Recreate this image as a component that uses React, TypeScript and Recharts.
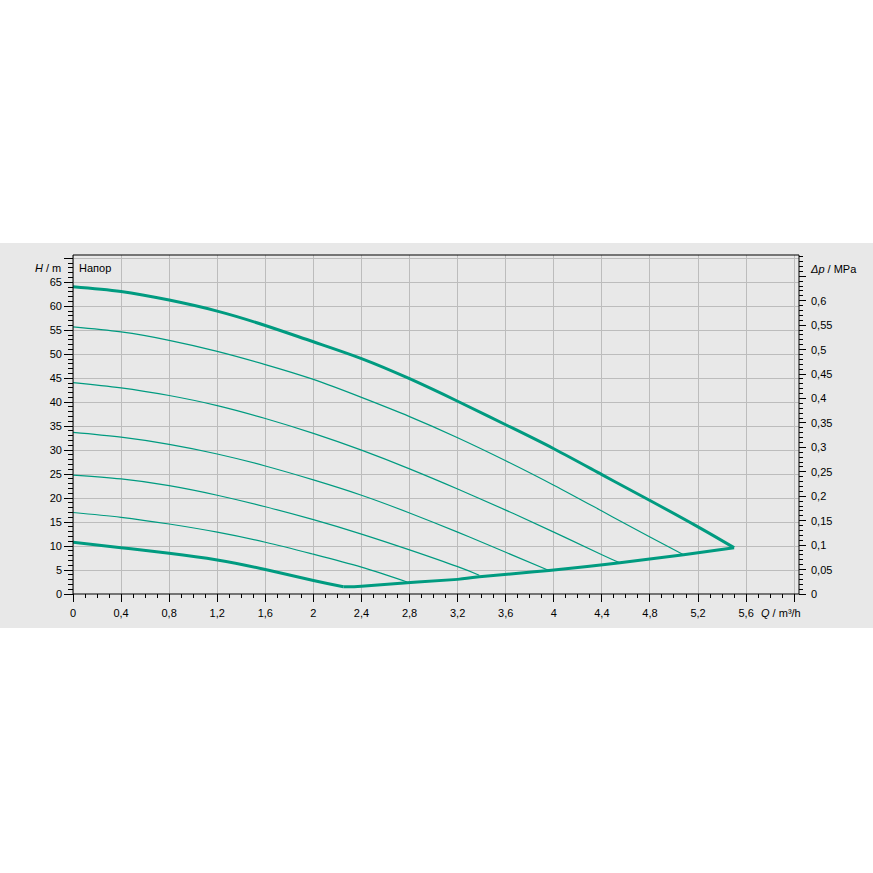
import React from "react";
import { LineChart, Line, XAxis, YAxis, CartesianGrid, ReferenceLine } from "recharts";

// pump curves: Q in m³/h, H in m
const maxCurve = [
  { q: 0, h: 64.1 }, { q: 0.4, h: 63.1 }, { q: 0.8, h: 61.3 }, { q: 1.2, h: 59.0 },
  { q: 1.6, h: 56.0 }, { q: 2.0, h: 52.6 }, { q: 2.4, h: 49.1 }, { q: 2.8, h: 44.9 },
  { q: 3.2, h: 40.2 }, { q: 3.6, h: 35.3 }, { q: 4.0, h: 30.3 }, { q: 4.4, h: 24.9 },
  { q: 4.8, h: 19.5 }, { q: 5.2, h: 14.0 }, { q: 5.5, h: 9.65 },
];
const curve1 = [
  { q: 0, h: 55.7 }, { q: 0.4, h: 54.65 }, { q: 0.8, h: 52.9 }, { q: 1.2, h: 50.6 },
  { q: 1.6, h: 47.85 }, { q: 2.0, h: 44.75 }, { q: 2.4, h: 41.0 }, { q: 2.8, h: 37.0 },
  { q: 3.2, h: 32.6 }, { q: 3.6, h: 27.8 }, { q: 4.0, h: 22.7 }, { q: 4.4, h: 17.3 },
  { q: 4.8, h: 11.9 }, { q: 5.08, h: 8.2 },
];
const curve2 = [
  { q: 0, h: 44.1 }, { q: 0.4, h: 43.0 }, { q: 0.8, h: 41.4 }, { q: 1.2, h: 39.3 },
  { q: 1.6, h: 36.6 }, { q: 2.0, h: 33.5 }, { q: 2.4, h: 30.0 }, { q: 2.8, h: 26.1 },
  { q: 3.2, h: 21.9 }, { q: 3.6, h: 17.5 }, { q: 4.0, h: 12.9 }, { q: 4.4, h: 8.2 },
  { q: 4.55, h: 6.5 },
];
const curve3 = [
  { q: 0, h: 33.7 }, { q: 0.4, h: 32.7 }, { q: 0.8, h: 31.2 }, { q: 1.2, h: 29.2 },
  { q: 1.6, h: 26.7 }, { q: 2.0, h: 23.8 }, { q: 2.4, h: 20.6 }, { q: 2.8, h: 16.9 },
  { q: 3.2, h: 12.9 }, { q: 3.6, h: 8.7 }, { q: 3.96, h: 4.9 },
];
const curve4 = [
  { q: 0, h: 24.8 }, { q: 0.4, h: 24.0 }, { q: 0.8, h: 22.6 }, { q: 1.2, h: 20.6 },
  { q: 1.6, h: 18.2 }, { q: 2.0, h: 15.5 }, { q: 2.4, h: 12.5 }, { q: 2.8, h: 9.2 },
  { q: 3.2, h: 5.7 }, { q: 3.38, h: 3.9 },
];
const curve5 = [
  { q: 0, h: 17.0 }, { q: 0.4, h: 16.0 }, { q: 0.8, h: 14.6 }, { q: 1.2, h: 12.9 },
  { q: 1.6, h: 10.8 }, { q: 2.0, h: 8.3 }, { q: 2.4, h: 5.6 }, { q: 2.78, h: 2.5 },
];
const minCurve = [
  { q: 0, h: 10.8 }, { q: 0.4, h: 9.65 }, { q: 0.8, h: 8.5 }, { q: 1.2, h: 7.1 },
  { q: 1.6, h: 5.1 }, { q: 2.0, h: 2.8 }, { q: 2.25, h: 1.5 },
];
const boundary = [
  { q: 2.25, h: 1.5 }, { q: 2.4, h: 1.6 }, { q: 2.78, h: 2.35 }, { q: 3.2, h: 3.05 },
  { q: 3.38, h: 3.6 }, { q: 3.96, h: 4.9 }, { q: 4.55, h: 6.5 }, { q: 5.08, h: 8.2 },
  { q: 5.5, h: 9.65 },
];

const gridQ = [0, 0.4, 0.8, 1.2, 1.6, 2, 2.4, 2.8, 3.2, 3.6, 4, 4.4, 4.8, 5.2, 5.6, 6];
const gridH = [5, 10, 15, 20, 25, 30, 35, 40, 45, 50, 55, 60, 65, 70];

const Q_MAX = 6.04;
const H_MAX = 70.7;
const MPA_PER_M = 0.00981;

const qTicks = Array.from({ length: 61 }, (_, k) => k / 10);
const hTicks = Array.from({ length: 71 }, (_, k) => k);
const pTicks = Array.from({ length: 70 }, (_, k) => k / 100);

const GREEN = "#009b80";
const GRID = "#bcbcbc";
const FONT = "'Liberation Sans', Arial, sans-serif";
const comma = (v: number) => String(v).replace(".", ",");

const XTick = (props: any) => {
  const { x, y, payload } = props;
  const k = Math.round(payload.value * 10);
  const major = k % 4 === 0;
  return (
    <g>
      <line x1={x} x2={x} y1={y} y2={y + (major ? 8 : 4)} stroke="#000" shapeRendering="crispEdges" />
      {major && k <= 56 && (
        <text x={x} y={y + 23} textAnchor="middle" fontSize={11} fontFamily={FONT} fill="#000">
          {comma(k / 10)}
        </text>
      )}
    </g>
  );
};

const HTick = (props: any) => {
  const { x, y, payload } = props;
  const v = Math.round(payload.value);
  const major = v % 5 === 0;
  return (
    <g>
      <line x1={x - (major ? 9 : 5)} x2={x} y1={y} y2={y} stroke="#000" shapeRendering="crispEdges" />
      {major && v <= 65 && (
        <text x={x - 11} y={y + 4} textAnchor="end" fontSize={11} fontFamily={FONT} fill="#000">
          {v}
        </text>
      )}
    </g>
  );
};

const PTick = (props: any) => {
  const { x, y, payload } = props;
  const k = Math.round(payload.value * 100);
  const major = k % 5 === 0;
  return (
    <g>
      <line x1={x} x2={x + (major ? 7 : 4)} y1={y} y2={y} stroke="#000" shapeRendering="crispEdges" />
      {major && k <= 60 && (
        <text x={x + 12} y={y + 4} textAnchor="start" fontSize={11} fontFamily={FONT} fill="#000">
          {comma(k / 100)}
        </text>
      )}
    </g>
  );
};

const labelStyle: React.CSSProperties = {
  position: "absolute",
  fontFamily: FONT,
  fontSize: 11,
  color: "#000",
  whiteSpace: "nowrap",
  lineHeight: "13px",
};

export default function App() {
  const thin = { type: "natural" as const, dataKey: "h", stroke: GREEN, strokeWidth: 1.2, dot: false, isAnimationActive: false };
  const thick = { ...thin, strokeWidth: 3 };
  return (
    <div style={{ position: "absolute", left: 0, top: 0, width: 873, height: 873, background: "#fff" }}>
      <div style={{ position: "absolute", left: 0, top: 243, width: 873, height: 385, background: "#e8e8e8" }}>
        <LineChart width={873} height={385} margin={{ top: 12, right: 0, bottom: 0, left: 0 }}>
          <CartesianGrid stroke={GRID} horizontal={false} verticalValues={gridQ} shapeRendering="crispEdges" />
          <XAxis
            type="number"
            dataKey="q"
            domain={[0, Q_MAX]}
            ticks={qTicks}
            interval={0}
            height={34}
            tickSize={0}
            tickMargin={0}
            tickLine={false}
            axisLine={{ stroke: "#000" }}
            tick={<XTick />}
            allowDataOverflow
          />
          <YAxis
            type="number"
            domain={[0, H_MAX]}
            ticks={hTicks}
            interval={0}
            width={73}
            tickSize={0}
            tickMargin={0}
            tickLine={false}
            axisLine={{ stroke: "#000" }}
            tick={<HTick />}
            allowDataOverflow
          />
          <YAxis
            yAxisId="p"
            orientation="right"
            type="number"
            domain={[0, H_MAX * MPA_PER_M]}
            ticks={pTicks}
            interval={0}
            width={74}
            tickSize={0}
            tickMargin={0}
            tickLine={false}
            axisLine={{ stroke: "#000" }}
            tick={<PTick />}
            allowDataOverflow
          />
          {/* horizontal grid drawn as flat series so it sits under the curves */}
          {gridH.map((v) => (
            <Line
              key={"g" + v}
              data={[{ q: 0, h: v }, { q: Q_MAX, h: v }]}
              dataKey="h"
              type="linear"
              stroke={GRID}
              strokeWidth={1}
              dot={false}
              activeDot={false}
              isAnimationActive={false}
              shapeRendering="crispEdges"
            />
          ))}
          <ReferenceLine y={H_MAX} stroke="#000" ifOverflow="extendDomain" />
          <Line data={curve1} {...thin} />
          <Line data={curve2} {...thin} />
          <Line data={curve3} {...thin} />
          <Line data={curve4} {...thin} />
          <Line data={curve5} {...thin} />
          <Line data={maxCurve} {...thick} />
          <Line data={minCurve} {...thick} />
          <Line data={boundary} {...thick} />
        </LineChart>
        <div style={{ ...labelStyle, left: 35, top: 19 }}>
          <i>H</i> / m
        </div>
        <div style={{ ...labelStyle, left: 79, top: 19 }}>Напор</div>
        <div style={{ ...labelStyle, left: 811, top: 20 }}>
          <i>Δp</i> / MPa
        </div>
        <div style={{ ...labelStyle, left: 761, top: 364 }}>
          <i>Q</i> / m³/h
        </div>
      </div>
    </div>
  );
}
